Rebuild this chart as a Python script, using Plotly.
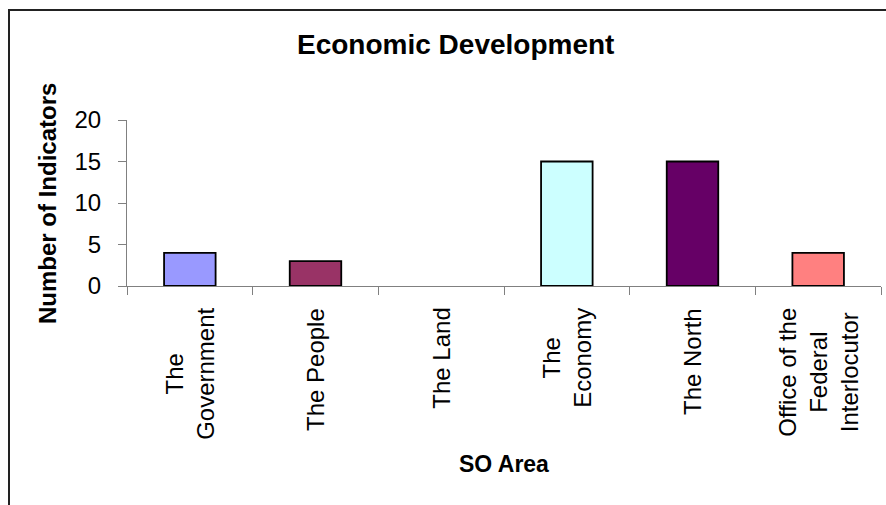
import plotly.graph_objects as go

# SO areas and the number of indicators attached to each
categories = ["The Government", "The People", "The Land", "The Economy",
              "The North", "Office of the Federal Interlocutor"]
tick_text = ["The<br>Government", "The People", "The Land", "The<br>Economy",
             "The North", "Office of the<br>Federal<br>Interlocutor"]
indicators = [4, 3, 0, 15, 15, 4]
bar_colors = ["#9999FF", "#993366", "#FFFFCC", "#CCFFFF", "#660066", "#FF8080"]
y_ticks = [0, 5, 10, 15, 20]

FONT = "Arial, 'Liberation Sans', sans-serif"

# plot-area geometry in pixels
W, H = 886, 505
L, R, T, B = 127, 5, 120, 219
plot_w = W - L - R
plot_h = H - T - B


def px_x(px):
    return (px - L) / plot_w


def px_y(py):
    return (H - B - py) / plot_h


# no outline on empty bars so nothing is drawn over the axis line
outline_widths = [1.8 if v > 0 else 0 for v in indicators]

fig = go.Figure(
    go.Bar(
        x=categories,
        y=indicators,
        width=0.41,
        marker=dict(color=bar_colors,
                    line=dict(color="#000000", width=outline_widths)),
        hoverinfo="x+y",
    )
)

# category labels: rotated, top-aligned blocks with centred lines
annotations = [
    dict(
        x=cat, y=px_y(306), xref="x", yref="paper",
        text=txt, textangle=-90, showarrow=False,
        xanchor="center", yanchor="top", align="center",
        font=dict(family=FONT, size=24, color="#000000"),
    )
    for cat, txt in zip(categories, tick_text)
]

annotations += [
    dict(
        x=px_x(455), y=px_y(45), xref="paper", yref="paper",
        text="<b>Economic Development</b>", showarrow=False,
        xanchor="center", yanchor="middle",
        font=dict(family=FONT, size=28, color="#000000"),
    ),
    dict(
        x=px_x(47), y=px_y(204), xref="paper", yref="paper",
        text="<b>Number of Indicators</b>", textangle=-90, showarrow=False,
        xanchor="center", yanchor="middle",
        font=dict(family=FONT, size=24, color="#000000"),
    ),
    dict(
        x=0.5, y=px_y(464), xref="paper", yref="paper",
        text="<b>SO Area</b>", showarrow=False,
        xanchor="center", yanchor="middle",
        font=dict(family=FONT, size=23, color="#000000"),
    ),
]

# chart frame (runs past the right and bottom edges of the view)
frame = dict(
    type="rect", xref="paper", yref="paper",
    x0=px_x(9), x1=px_x(W + 40), y0=px_y(H + 40), y1=px_y(10),
    line=dict(color="#222222", width=2), fillcolor="rgba(0,0,0,0)",
    layer="below",
)

fig.update_layout(
    width=W, height=H,
    margin=dict(l=L, r=R, t=T, b=B, pad=0),
    paper_bgcolor="#FFFFFF", plot_bgcolor="#FFFFFF",
    showlegend=False,
    annotations=annotations,
    shapes=[frame],
    xaxis=dict(
        type="category",
        range=[-0.5, len(categories) - 0.5],
        showticklabels=False,
        ticks="outside", tickson="boundaries", ticklen=8,
        tickcolor="#808080", tickwidth=1,
        showline=True, linecolor="#808080", linewidth=1,
        showgrid=False, zeroline=False,
    ),
    yaxis=dict(
        range=[0, 20],
        tickvals=y_ticks,
        ticks="outside", ticklen=8, tickcolor="#808080", tickwidth=1,
        ticklabelstandoff=12,
        showline=True, linecolor="#808080", linewidth=1,
        showgrid=False, zeroline=False,
        tickfont=dict(family=FONT, size=24, color="#000000"),
    ),
    bargap=0.59,
)

fig.write_html("out.html")
